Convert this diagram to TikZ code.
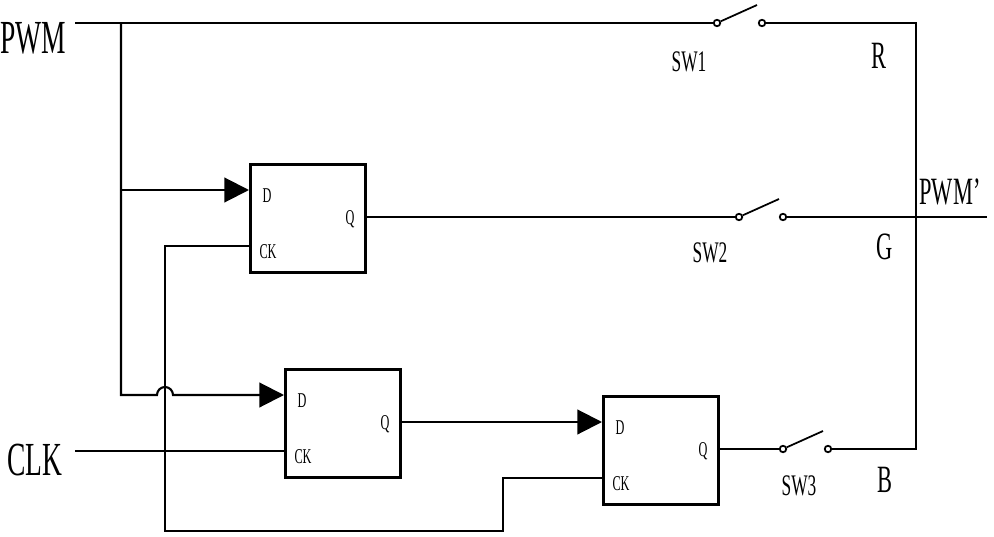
\documentclass[tikz,border=0pt]{standalone}
\usepackage{fontspec}
\newfontfamily\cfont[FakeStretch=0.58]{Liberation Serif}
\usetikzlibrary{arrows.meta,calc}
\begin{document}
\begin{tikzpicture}[x=0.02cm,y=-0.02cm,line width=1.2pt,
  ff/.style={draw,line width=1.8pt,minimum width=2.3cm,minimum height=2.16cm,anchor=north west,inner sep=0pt},
  pinlab/.style={font=\cfont\fontsize{12}{14}\selectfont,inner sep=0pt},
  swlab/.style={font=\cfont\fontsize{17}{20}\selectfont},
  sig/.style={font=\cfont\fontsize{22}{26}\selectfont},
  big/.style={font=\cfont\fontsize{27}{31}\selectfont},
  contact/.style={circle,draw,fill=white,line width=1pt,inner sep=0pt,minimum size=0.13cm},
  arr/.style={-{Triangle[length=14pt,width=14pt]}}
  ]
    \useasboundingbox (0,0) rectangle (994,537);

    \node[ff] (ff1) at (249,163) {};
    \node[ff] (ff2) at (284,368) {};
    \node[ff] (ff3) at (602,395) {};
    \foreach \f in {ff1,ff2,ff3} {
        \coordinate (\f-d) at ($(\f.north west)+(0,27)$);
        \coordinate (\f-q) at ($(\f.north east)+(0,54)$);
        \coordinate (\f-ck) at ($(\f.north west)+(0,83)$);
        \node[pinlab] at ($(\f.north west)+(18,33)$) {D};
        \node[pinlab] at ($(\f.north east)+(-17,56)$) {Q};
        \node[pinlab] at ($(\f.north west)+(19,89)$) {CK};
    }

    \node[contact] (sw1a) at (717,23) {};
    \node[contact] (sw1b) at (762,23) {};
    \node[contact] (sw2a) at (739,217) {};
    \node[contact] (sw2b) at (783,217) {};
    \node[contact] (sw3a) at (783,449) {};
    \node[contact] (sw3b) at (828,449) {};

    \coordinate (pwmin) at (75,23);
    \coordinate (pj) at (121,23);
    \coordinate (clkin) at (75,451);
    \coordinate (rt) at (916,23);
    \coordinate (rb) at (916,449);
    \coordinate (pwmout) at (987,217);
    \coordinate (lp) at (165,531);
    \coordinate (lk) at (503,531);

    \draw (pwmin) -- (sw1a);
    \draw (sw1b) -- (rt) -- (rb) -- (sw3b);
    \draw[arr] (pj |- ff1-d) -- (ff1-d);
    \draw[arr] (pj) |- ($(lp |- ff2-d)+(-8,0)$) arc[start angle=180,end angle=0,radius=0.16cm] -- (ff2-d);
    \draw (ff1-ck) -| (lp) -- (lk) |- (ff3-ck);
    \draw (clkin) -- (ff2-ck);
    \draw (ff1-q) -- (sw2a);
    \draw (sw2b) -- (pwmout);
    \draw[arr] (ff2-q) -- (ff3-d);
    \draw (ff3-q) -- (sw3a);
    \draw[line width=1pt] (sw1a) -- ++(40,-18);
    \draw[line width=1pt] (sw2a) -- ++(40,-18);
    \draw[line width=1pt] (sw3a) -- ++(40,-18);

    \node[big] (pwm) at (33,38) {PWM};
    \node[big] (clk) at (35,460) {CLK};
    \node[swlab] (sw1l) at (689,62) {SW1};
    \node[swlab] (sw2l) at (710,253) {SW2};
    \node[swlab] (sw3l) at (799,486) {SW3};
    \node[sig] (r) at (879,56) {R};
    \node[sig] (g) at (885,247) {G};
    \node[sig] (b) at (885,480) {B};
    \node[sig] (pwmo) at (950,192) {PWM’};
\end{tikzpicture}
\end{document}
